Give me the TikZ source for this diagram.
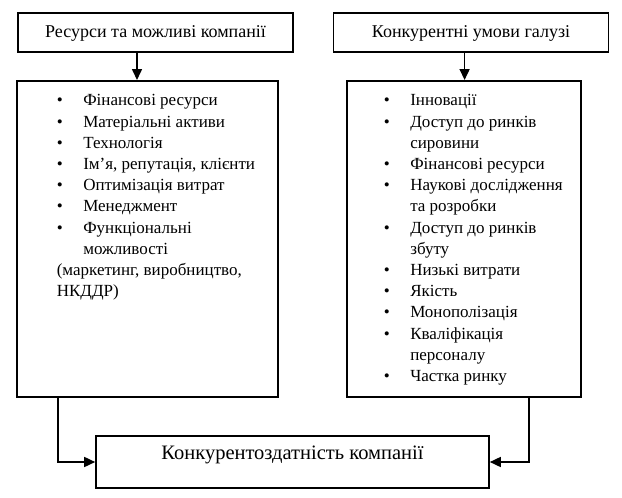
\documentclass[tikz,border=0pt]{standalone}
\usepackage{fontspec}
\setmainfont{Liberation Serif}
\usetikzlibrary{arrows.meta,positioning}

\newcommand{\itm}[1]{\makebox[26.5pt][l]{\textbullet}#1}
\newcommand{\cnt}[1]{\hspace*{26.5pt}#1}

\begin{document}
\begin{tikzpicture}[x=1pt, y=1pt, line width=1.6pt, >={Triangle[length=11pt, width=10pt]}, head/.style={rectangle, draw, minimum width=275pt, minimum height=39pt, inner sep=0pt, text height=10.5pt, text depth=1.5pt, font=\fontsize{18}{22}\selectfont}, listbox/.style={rectangle, draw, minimum height=316pt, inner sep=0pt, anchor=north west}, listtext/.style={align=left, inner sep=0pt, anchor=north west, font=\fontsize{17}{21.2}\selectfont}, result/.style={rectangle, draw, minimum width=393pt, minimum height=52pt, inner sep=0pt, text height=10pt, text depth=16pt, font=\fontsize{20.5}{24}\selectfont}]

    \useasboundingbox (0,0) rectangle (622,-498);

    \node[head] (res) at (155.5,-32.5) {Ресурси та можливі компанії};
    \node[head, right=39pt of res] (cond) {Конкурентні умови галузі};
    \node[listbox, minimum width=261pt] (reslist) at (16,-80) {};
    \node[listbox, minimum width=234pt] (condlist) at (346,-80) {};
    \node[result] (comp) at (292.5,-462) {Конкурентоздатність компанії};

    \node[listtext] (restext) at ([shift={(40,-10.2)}]reslist.north west) {\strut\itm{Фінансові ресурси}\\ \itm{Матеріальні активи}\\ \itm{Технологія}\\ \itm{Ім’я, репутація, клієнти}\\ \itm{Оптимізація витрат}\\ \itm{Менеджмент}\\ \itm{Функціональні}\\ \cnt{можливості}\\ (маркетинг, виробництво,\\ НКДДР)};
    \node[listtext] (condtext) at ([shift={(37,-10.2)}]condlist.north west) {\strut\itm{Інновації}\\ \itm{Доступ до ринків}\\ \cnt{сировини}\\ \itm{Фінансові ресурси}\\ \itm{Наукові дослідження}\\ \cnt{та розробки}\\ \itm{Доступ до ринків}\\ \cnt{збуту}\\ \itm{Низькі витрати}\\ \itm{Якість}\\ \itm{Монополізація}\\ \itm{Кваліфікація}\\ \cnt{персоналу}\\ \itm{Частка ринку}};

    \draw[->] ([xshift=-18.5pt]res.south) -- ([xshift=-18.5pt]res.south |- reslist.north);
    \draw[->] ([xshift=-6.5pt]cond.south) -- ([xshift=-6.5pt]cond.south |- condlist.north);
    \draw[->] ([xshift=-89.5pt]reslist.south) |- (comp.west);
    \draw[->] ([xshift=65pt]condlist.south) |- (comp.east);
  \end{tikzpicture}
\end{document}
